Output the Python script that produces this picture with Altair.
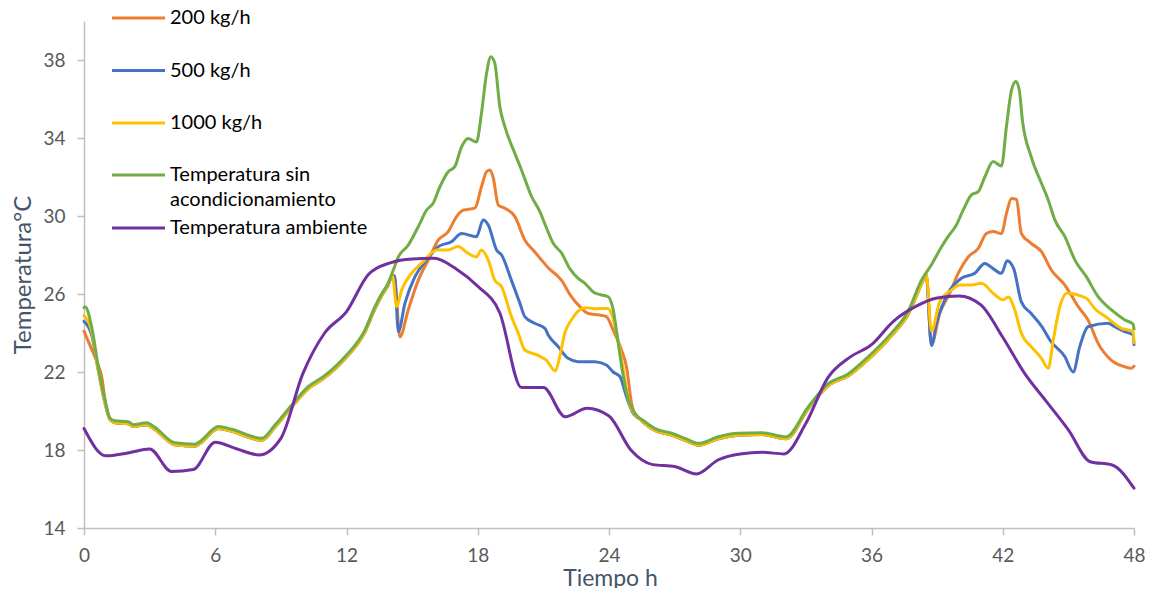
import altair as alt
import pandas as pd

# ---------------- data ----------------
series_names = ["200 kg/h", "500 kg/h", "1000 kg/h",
                "Temperatura sin acondicionamiento", "Temperatura ambiente"]
series_colors = ["#ED7D31", "#4472C4", "#FFC000", "#70AD47", "#7030A0"]

# shared path of the three conditioned cases during the nights (hidden under green)
night1_h = [1.2, 1.42, 2.02, 2.25, 2.86, 3.24, 4.16, 5.07, 5.3, 6.14, 6.75, 8.12, 8.73,
            9.49, 10.25, 10.94, 11.93, 12.84, 13.3, 13.6, 13.9, 14.1]
night1_t = [19.55, 19.4, 19.35, 19.2, 19.3, 19.05, 18.27, 18.2, 18.33, 19.1, 18.96, 18.5, 19.18,
            20.2, 21.15, 21.66, 22.68, 24.05, 25.25, 25.9, 26.45, 26.95]
night2_h = [25.4, 25.64, 26.1, 26.86, 27.47, 28.1, 28.99, 29.9, 30.97, 32.1, 33.1, 34.02,
            34.93, 35.85, 36.9, 37.67, 38.28, 38.5]
night2_t = [19.6, 19.35, 19.0, 18.76, 18.5, 18.25, 18.58, 18.76, 18.8, 18.58, 20.1, 21.3,
            21.8, 22.65, 23.85, 24.95, 26.5, 27.0]

# 200 kg/h
o_start_h = [0, 0.3, 0.6, 0.8, 1.0]
o_start_t = [24.1, 23.3, 22.5, 21.8, 20.3]
o_day1_h = [14.2, 14.44, 14.82, 15.28, 15.74, 16.2, 16.65, 17.03, 17.34, 17.87, 18.17, 18.4,
            18.56, 18.7, 18.94, 19.24, 19.7, 20.15, 20.6, 21.22, 21.83, 22.28, 22.67, 23.05,
            23.58, 23.88, 24.19, 24.57, 24.8, 25.03, 25.26]
o_day1_t = [26.9, 23.8, 25.18, 26.7, 27.74, 28.77, 29.2, 29.97, 30.3, 30.4, 31.5, 32.27,
            32.36, 32.0, 30.56, 30.4, 29.97, 28.77, 28.17, 27.35, 26.7, 25.86, 25.35, 25.0,
            24.92, 24.84, 24.15, 23.13, 22.27, 20.4, 19.7]
o_day2_h = [38.74, 39.12, 39.58, 39.96, 40.42, 40.88, 41.25, 41.56, 41.94, 42.17, 42.4, 42.63,
            42.85, 43.3, 43.77, 44.22, 44.84, 45.45, 45.9, 46.36, 46.97, 47.58, 47.88, 48]
o_day2_t = [23.4, 25.0, 26.04, 27.06, 27.9, 28.34, 29.1, 29.2, 29.1, 30.14, 30.9, 30.85,
            29.1, 28.6, 28.17, 27.23, 26.46, 25.35, 24.67, 23.47, 22.6, 22.27, 22.19, 22.3]

# 500 kg/h
b_start_h = [0, 0.35, 0.65, 0.96]
b_start_t = [24.6, 23.9, 22.1, 20.4]
b_day1_h = [14.2, 14.37, 14.67, 15.13, 15.66, 16.2, 16.8, 17.26, 17.94, 18.25, 18.48, 18.86,
            19.09, 19.54, 19.93, 20.15, 20.6, 21.07, 21.22, 21.68, 22.13, 22.59, 23.35, 23.88,
            24.19, 24.5, 24.8, 25.1]
b_day1_t = [26.9, 24.07, 25.52, 26.89, 27.74, 28.43, 28.68, 29.1, 28.94, 29.8, 29.54, 28.26,
            28.0, 26.7, 25.52, 24.84, 24.5, 24.24, 23.9, 23.3, 22.7, 22.53, 22.53, 22.36,
            22.0, 21.76, 20.73, 19.88]
b_day2_h = [38.74, 38.97, 39.5, 40.1, 40.72, 41.18, 41.56, 41.94, 42.2, 42.5, 42.85, 43.3,
            43.84, 44.15, 44.84, 45.22, 45.52, 45.9, 46.81, 47.12, 47.58, 47.96, 48]
b_day2_t = [23.35, 24.5, 26.04, 26.8, 27.06, 27.57, 27.3, 27.06, 27.7, 27.3, 25.6, 25.0,
            24.24, 23.64, 22.78, 22.0, 23.3, 24.32, 24.5, 24.32, 24.07, 23.9, 23.4]

# 1000 kg/h
y_start_h = [0, 0.35, 0.65, 0.96]
y_start_t = [24.9, 24.1, 22.1, 20.4]
y_day1_h = [14.29, 14.52, 14.97, 15.51, 16.12, 16.65, 17.1, 17.56, 17.94, 18.17, 18.48, 18.78,
            19.09, 19.54, 19.85, 20.15, 20.76, 21.14, 21.55, 21.75, 21.98, 22.28, 22.9, 23.35,
            23.96, 24.11, 24.5, 24.95, 25.2]
y_day1_t = [25.35, 26.2, 27.06, 27.66, 28.26, 28.26, 28.43, 28.09, 27.9, 28.26, 27.74, 26.7,
            26.37, 24.84, 24.0, 23.13, 22.85, 22.6, 22.05, 22.8, 24.0, 24.67, 25.3, 25.25,
            25.26, 25.0, 23.13, 20.3, 19.8]
y_day2_h = [38.74, 39.12, 39.66, 40.04, 40.57, 41.03, 41.56, 42.02, 42.25, 42.55, 42.85, 43.3,
            43.77, 44.08, 44.31, 44.61, 44.92, 45.82, 46.2, 46.81, 47.42, 47.96, 48]
y_day2_t = [24.1, 25.6, 26.2, 26.46, 26.46, 26.55, 26.04, 25.7, 25.85, 25.18, 23.98, 23.3,
            22.7, 22.19, 23.64, 25.35, 26.04, 25.78, 25.26, 24.75, 24.24, 24.07, 23.5]

# Temperatura sin acondicionamiento
g_h = [0, 0.05, 0.35, 0.65, 0.96, 1.19, 1.42, 2.02, 2.25, 2.86, 3.24, 4.16, 5.07, 5.3, 6.14,
       6.75, 8.12, 8.73, 9.49, 10.25, 10.94, 11.93, 12.84, 13.3, 13.6, 13.9, 14.14, 14.37,
       14.82, 15.28, 15.66, 15.96, 16.27, 16.65, 16.95, 17.26, 17.56, 17.94, 18.17, 18.4,
       18.6, 18.78, 19.01, 19.24, 19.7, 20.0, 20.46, 20.85, 21.1, 21.45, 21.83, 22.21, 22.59,
       22.9, 23.28, 23.66, 23.96, 24.19, 24.42, 24.65, 24.88, 25.18, 25.64, 26.1, 26.86,
       27.47, 28.1, 28.99, 29.9, 30.97, 32.1, 33.1, 34.02, 34.93, 35.85, 36.9, 37.67, 38.28,
       38.74, 39.19, 39.5, 39.88, 40.19, 40.57, 40.88, 41.18, 41.56, 41.94, 42.17, 42.4,
       42.6, 42.75, 42.9, 43.3, 43.77, 44.08, 44.38, 44.84, 45.3, 45.82, 46.36, 46.97, 47.58,
       47.96, 48]
g_t = [25.3, 25.35, 24.32, 22.27, 20.56, 19.63, 19.5, 19.45, 19.3, 19.4, 19.16, 18.37, 18.3,
       18.43, 19.2, 19.06, 18.6, 19.28, 20.3, 21.25, 21.76, 22.78, 24.15, 25.35, 26.0, 26.55,
       27.23, 27.9, 28.5, 29.45, 30.3, 30.65, 31.5, 32.27, 32.53, 33.55, 33.98, 33.8, 35.27,
       37.3, 38.17, 37.83, 35.6, 34.58, 33.2, 32.36, 31.0, 30.2, 29.5, 28.6, 28.1, 27.3, 26.8,
       26.55, 26.1, 25.95, 25.86, 25.2, 23.5, 21.8, 20.6, 19.9, 19.45, 19.1, 18.86, 18.6,
       18.34, 18.68, 18.86, 18.89, 18.68, 20.2, 21.4, 21.9, 22.78, 23.98, 25.1, 26.7, 27.5,
       28.4, 28.94, 29.54, 30.3, 31.08, 31.25, 32.0, 32.8, 32.56, 34.6, 36.46, 36.9, 36.5,
       34.9, 33.04, 31.68, 30.82, 29.8, 28.94, 27.74, 26.89, 25.86, 25.18, 24.67, 24.45,
       24.2]

# Temperatura ambiente (hourly)
amb_h = list(range(0, 49))
amb_t = [19.1, 17.7, 17.85, 18.05, 16.9, 17.0, 18.4, 18.05, 17.75, 18.6, 21.9, 24.0, 25.1,
         27.0, 27.6, 27.8, 27.83, 27.3, 26.4, 25.05, 21.2, 21.2, 19.7, 20.14, 19.74, 18.0,
         17.25, 17.15, 16.77, 17.5, 17.8, 17.88, 17.8, 19.37, 21.7, 22.75, 23.4, 24.6, 25.35,
         25.8, 25.9, 25.44, 23.78, 21.93, 20.48, 19.03, 17.4, 17.23, 16.04]

x_ticks = [0, 6, 12, 18, 24, 30, 36, 42, 48]
y_ticks = [14, 18, 22, 26, 30, 34, 38]

# ---------------- build tables ----------------
series_h = [
    o_start_h + night1_h + o_day1_h + night2_h + o_day2_h,
    b_start_h + night1_h + b_day1_h + night2_h + b_day2_h,
    y_start_h + night1_h + y_day1_h + night2_h + y_day2_h,
    g_h,
    amb_h,
]
series_t = [
    o_start_t + night1_t + o_day1_t + night2_t + o_day2_t,
    b_start_t + night1_t + b_day1_t + night2_t + b_day2_t,
    y_start_t + night1_t + y_day1_t + night2_t + y_day2_t,
    g_t,
    amb_t,
]

FONT = "Lato"
W, H = 1050, 507

x_scale = alt.Scale(domain=[0, 48], nice=False, zero=False)
y_scale = alt.Scale(domain=[14, 40], nice=False, zero=False)

x_axis = alt.Axis(values=x_ticks, title="Tiempo h", grid=False, domainColor="#BFBFBF",
                  domainWidth=1.5, tickColor="#BFBFBF", tickWidth=1.5, tickSize=7,
                  labelFont=FONT, labelFontSize=19, labelColor="#595959", labelPadding=11,
                  labelFlush=False,
                  titleFont=FONT, titleFontSize=23, titleFontWeight="normal",
                  titleColor="#44546A", titleX=526, titleY=57, titleAlign="center",
                  titleBaseline="alphabetic")
y_axis = alt.Axis(values=y_ticks, title="Temperatura°C", grid=False, domainColor="#BFBFBF",
                  domainWidth=1.5, tickColor="#BFBFBF", tickWidth=1.5, tickSize=7,
                  labelFont=FONT, labelFontSize=19, labelColor="#595959", labelPadding=12,
                  labelFlush=False,
                  titleFont=FONT, titleFontSize=24, titleFontWeight="normal",
                  titleColor="#44546A", titleX=-61, titleY=H / 2, titleAngle=270,
                  titleAlign="center", titleBaseline="middle")

# one long table, drawn as one layer per series (to keep the drawing order)
rows = []
for i, name in enumerate(series_names):
    for hh, tt in zip(series_h[i], series_t[i]):
        rows.append({"h": hh, "t": tt, "serie": name, "k": i})
data = pd.DataFrame(rows)

base = alt.Chart(data).encode(
    x=alt.X("h:Q", scale=x_scale, axis=x_axis),
    y=alt.Y("t:Q", scale=y_scale, axis=y_axis),
    order=alt.Order("h:Q"),
)

layers = []
for i, (name, col) in enumerate(zip(series_names, series_colors)):
    layers.append(
        base.transform_filter(alt.datum.k == i).mark_line(
            color=col, strokeWidth=3, interpolate="monotone",
            strokeJoin="round", strokeCap="round")
    )

# manual legend (inside the plot, top-left)
legend_rows = [-3, 49.5, 102, 154, 207]
for i, (name, col) in enumerate(zip(series_names, series_colors)):
    ld = pd.DataFrame({"label": [name]})
    y0 = legend_rows[i]
    layers.append(
        alt.Chart(ld).mark_rule(color=col, strokeWidth=3).encode(
            x=alt.value(28), x2=alt.value(81), y=alt.value(y0))
    )
    if name == "Temperatura sin acondicionamiento":
        parts = ["Temperatura sin", "acondicionamiento"]
        for j, p in enumerate(parts):
            layers.append(
                alt.Chart(pd.DataFrame({"label": [p]})).mark_text(
                    align="left", baseline="middle", font=FONT, fontSize=20, color="#000000"
                ).encode(text="label:N", x=alt.value(86), y=alt.value(y0 + 25 * j))
            )
    else:
        layers.append(
            alt.Chart(ld).mark_text(
                align="left", baseline="middle", font=FONT, fontSize=20, color="#000000"
            ).encode(text="label:N", x=alt.value(86), y=alt.value(y0))
        )

chart = alt.layer(*layers).properties(
    width=W, height=H,
    autosize=alt.AutoSizeParams(type="none"),
    padding={"left": 76, "top": 13, "right": 11, "bottom": 60},
).configure_view(stroke=None)

chart.save("out.html", embed_options={"renderer": "svg", "actions": False})
